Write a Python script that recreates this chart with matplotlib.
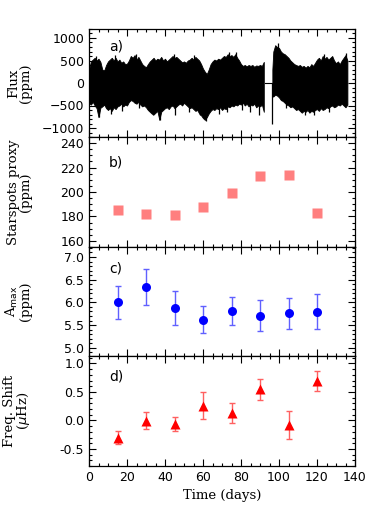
import numpy as np
import matplotlib
matplotlib.use("Agg")
import matplotlib.pyplot as plt
from matplotlib.ticker import MultipleLocator, FormatStrFormatter

# ---------------- data ----------------
# Panel a: light-curve envelope (ppm), segment before the gap
lc1_days = [0, 1, 2, 3, 4, 5, 6, 7, 8, 9, 10, 11, 12, 13, 14, 15, 16, 17, 18, 19,
            20, 21, 22, 23, 24, 25, 26, 27, 28, 29, 30, 31, 32, 33, 34, 35, 36, 37, 38, 39,
            40, 41, 42, 43, 44, 45, 46, 47, 48, 49, 50, 51, 52, 53, 54, 55, 56, 57, 58, 59,
            60, 61, 62, 63, 64, 65, 66, 67, 68, 69, 70, 71, 72, 73, 74, 75, 76, 77, 78, 79,
            80, 81, 82, 83, 84, 85, 86, 87, 88, 89, 90, 91, 92]
lc1_upper = [300, 480, 520, 560, 500, 540, 470, 300, 280, 400, 480, 520, 560, 500, 560, 480, 520, 450, 480, 420,
             430, 500, 600, 560, 620, 520, 580, 500, 420, 380, 350, 420, 480, 520, 560, 500, 540, 520, 580, 500,
             540, 480, 520, 560, 600, 560, 580, 540, 500, 460, 480, 450, 500, 520, 560, 520, 580, 540, 500, 420,
             320, 250, 200, 300, 420, 480, 520, 500, 540, 520, 560, 600, 580, 640, 600, 620, 580, 640, 560, 500,
             420, 380, 400, 370, 400, 380, 400, 360, 390, 380, 400, 380, 470]
lc1_lower = [-450, -480, -420, -500, -560, -760, -550, -520, -480, -560, -600, -560, -620, -540, -580, -520, -500, -460, -520, -480,
             -500, -420, -380, -400, -440, -460, -420, -480, -520, -500, -540, -600, -640, -680, -700, -660, -620, -820, -640, -600,
             -560, -540, -580, -520, -500, -560, -520, -480, -460, -500, -440, -480, -520, -560, -540, -580, -620, -600, -680, -720,
             -780, -820, -760, -680, -620, -580, -600, -560, -580, -540, -600, -560, -580, -520, -540, -500, -520, -480, -500, -460,
             -480, -440, -500, -460, -520, -480, -500, -460, -540, -500, -520, -480, -640]
# segment after the gap
lc2_days = [96.5, 97, 98, 99, 100, 101, 102, 103, 104, 105, 106, 107, 108, 109, 110, 111, 112, 113, 114, 115,
            116, 117, 118, 119, 120, 121, 122, 123, 124, 125, 126, 127, 128, 129, 130, 131, 132, 133, 134, 135, 136]
lc2_upper = [300, 700, 840, 800, 780, 700, 660, 640, 600, 560, 500, 460, 420, 400, 380, 400, 360, 380, 340, 380,
             350, 420, 380, 450, 520, 560, 500, 600, 540, 580, 520, 560, 600, 500, 440, 480, 420, 500, 560, 620, 500]
lc2_lower = [-300, -300, -260, -280, -320, -380, -400, -440, -480, -500, -540, -520, -560, -600, -580, -620, -660, -620, -640, -600,
             -660, -620, -640, -600, -580, -620, -560, -600, -580, -540, -560, -520, -500, -540, -520, -480, -500, -460, -500, -540, -480]
gap_days = [92.5, 96.3]
# isolated spikes seen in the light curve
down_spike_days = [5.5, 11.5, 17.5, 26.5, 33.5, 37.5, 45.5, 52.5, 58.5, 61.5, 68.5, 72.5, 80.5, 84.5, 89.5, 96.3, 103.5, 113.5, 118.5, 126.5]
down_spike_vals = [-760, -680, -620, -560, -720, -830, -700, -640, -720, -840, -680, -650, -600, -640, -700, -900, -560, -700, -720, -650]
up_spike_days = [3.5, 13.5, 24.5, 44.5, 55.5, 73.5, 77.5, 99.5, 123.5, 135.5]
up_spike_vals = [600, 620, 650, 640, 620, 680, 680, 880, 650, 660]

# Panels b-d: 15-day segments
seg_days = [15, 30, 45, 60, 75, 90, 105, 120]
spots_proxy = [185, 182, 181.5, 188, 199, 213, 214, 183]
amax = [6.00, 6.34, 5.87, 5.62, 5.81, 5.71, 5.76, 5.79]
amax_err = [0.355, 0.39, 0.375, 0.30, 0.30, 0.335, 0.335, 0.385]
freq_shift = [-0.30, -0.005, -0.065, 0.26, 0.135, 0.545, -0.08, 0.69]
freq_err = [0.12, 0.145, 0.125, 0.235, 0.175, 0.185, 0.25, 0.175]

# ---------------- figure ----------------
W, H = 382, 523
fig = plt.figure(figsize=(W / 100, H / 100), dpi=100)

tick_family, tick_size = "DejaVu Sans", 9
label_font = dict(family="DejaVu Serif", size=9.5)

left = 89 / W
width = (355 - 89) / W
bounds = [(29, 137), (137, 247), (247, 356), (356, 466)]
axes = []
for top, bot in bounds:
    ax = fig.add_axes([left, 1 - bot / H, width, (bot - top) / H])
    axes.append(ax)

for ax in axes:
    ax.set_xlim(0, 140)
    ax.xaxis.set_major_locator(MultipleLocator(20))
    ax.xaxis.set_minor_locator(MultipleLocator(5))
    ax.tick_params(which="both", direction="in", top=True, right=True, width=0.8)
    ax.tick_params(which="major", length=5)
    ax.tick_params(which="minor", length=2.5)
    ax.tick_params(labelsize=tick_size)
    for s in ax.spines.values():
        s.set_linewidth(0.9)
    if ax is not axes[-1]:
        ax.tick_params(labelbottom=False)

# Panel a
ax = axes[0]
ax.fill_between(lc1_days, lc1_lower, lc1_upper, color="black", lw=0.6, edgecolor="black")
ax.fill_between(lc2_days, lc2_lower, lc2_upper, color="black", lw=0.6, edgecolor="black")
ax.plot(gap_days, [0, 0], color="black", lw=0.8)
ax.vlines(down_spike_days, down_spike_vals, [0] * len(down_spike_days), color="black", lw=0.9)
ax.vlines(up_spike_days, [0] * len(up_spike_days), up_spike_vals, color="black", lw=0.9)
ax.set_ylim(-1200, 1200)
ax.yaxis.set_major_locator(MultipleLocator(500))
ax.yaxis.set_minor_locator(MultipleLocator(100))
ax.set_ylabel("Flux\n(ppm)", **label_font, linespacing=0.9)
ax.text(0.075, 0.80, "a)", transform=ax.transAxes, fontsize=10, family="DejaVu Sans")

# Panel b
ax = axes[1]
ax.plot(seg_days, spots_proxy, "s", color="#ff7f7f", ms=6.5, mec="none")
ax.set_ylim(155, 245)
ax.yaxis.set_major_locator(MultipleLocator(20))
ax.yaxis.set_minor_locator(MultipleLocator(5))
ax.set_ylabel("Starspots proxy\n(ppm)", **label_font, linespacing=0.9)
ax.text(0.075, 0.73, "b)", transform=ax.transAxes, fontsize=10, family="DejaVu Sans")

# Panel c
ax = axes[2]
ax.errorbar(seg_days, amax, yerr=amax_err, fmt="o", color="#0000ff", ms=6.5,
            ecolor="#6060ff", elinewidth=1.0, capsize=2.2, capthick=1.0, mec="none")
ax.set_ylim(4.82, 7.22)
ax.yaxis.set_major_locator(MultipleLocator(0.5))
ax.yaxis.set_minor_locator(MultipleLocator(0.1))
ax.yaxis.set_major_formatter(FormatStrFormatter("%.1f"))
ax.set_ylabel(r"A$_{\rm max}$" + "\n(ppm)", **label_font, linespacing=0.9)
ax.text(0.075, 0.77, "c)", transform=ax.transAxes, fontsize=10, family="DejaVu Sans")

# Panel d
ax = axes[3]
ax.errorbar(seg_days, freq_shift, yerr=freq_err, fmt="^", color="#ff0000", ms=6.5,
            ecolor="#ff6060", elinewidth=1.0, capsize=2.2, capthick=1.0, mec="none")
ax.set_ylim(-0.8, 1.13)
ax.yaxis.set_major_locator(MultipleLocator(0.5))
ax.yaxis.set_minor_locator(MultipleLocator(0.1))
ax.yaxis.set_major_formatter(FormatStrFormatter("%.1f"))
ax.set_ylabel("Freq. Shift\n" + r"($\mu$Hz)", **label_font, linespacing=0.9)
ax.text(0.075, 0.78, "d)", transform=ax.transAxes, fontsize=10, family="DejaVu Sans")
ax.set_xlabel("Time (days)", **label_font)

for ax in axes:
    ax.yaxis.set_label_coords(-0.215, 0.5)

fig.savefig("out.png", dpi=100)
